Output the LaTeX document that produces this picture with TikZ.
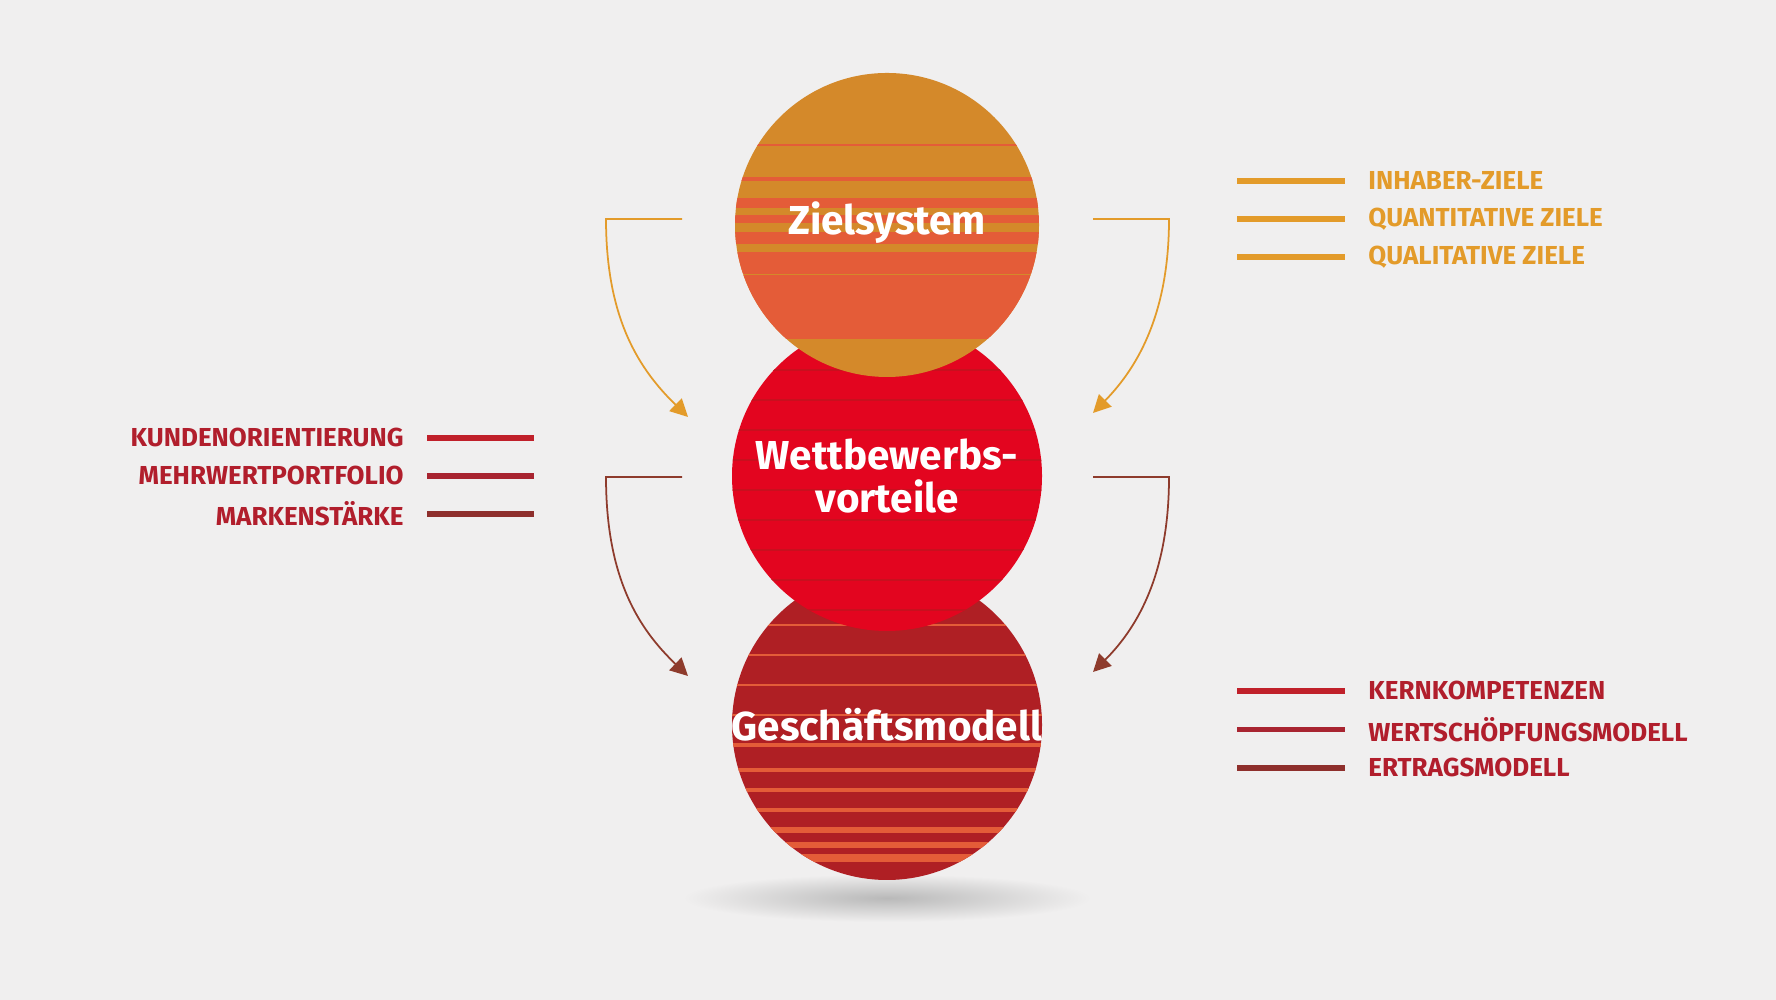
\documentclass[tikz,border=0pt]{standalone}
\usepackage{fontspec}
\setmainfont{Fira Sans}
\usetikzlibrary{arrows.meta,shadows}
\definecolor{bg}{HTML}{F0EFEF}
\definecolor{zorange}{HTML}{D4892A}
\definecolor{zred}{HTML}{E45C38}
\definecolor{wred}{HTML}{E3051F}
\definecolor{wdark}{HTML}{C8101E}
\definecolor{gred}{HTML}{AF1F24}
\definecolor{listorange}{HTML}{E39B2A}
\definecolor{listred}{HTML}{B11E2C}
\definecolor{arrbrown}{HTML}{8E3B2C}
\begin{document}
\begin{tikzpicture}[
arrow/.style={draw,line width=0.5pt,-{Triangle[length=5pt,width=5pt]}},
title/.style={text=white,font=\bfseries\fontsize{11.5}{12}\selectfont,align=center},
item/.style={font=\bfseries\fontsize{7.4}{8}\selectfont},
bar/.style={line width=1.6pt}
]
\fill[bg] (0,0) rectangle (17.76,10);
% shadow
\shade[inner color=gray!55,outer color=bg] (8.87,1.02) ellipse (2.04 and 0.24);

% bottom circle
\begin{scope}
\clip (8.87,2.75) circle (1.55);
\fill[gred] (7,1) rectangle (11,4.4);
\foreach \y/\w in {3.75/0.5,3.45/0.5,3.15/0.6,2.85/0.8,2.55/1,2.3/1,2.1/1.2,1.9/1.4,1.7/1.6,1.55/1.8,1.42/2}
  \draw[zred,line width=\w pt] (7,\y) -- (11,\y);
\end{scope}
\node[title] (geschaeft) at (8.87,2.75) {Geschäftsmodell};

% middle circle
\begin{scope}
\clip (8.87,5.24) circle (1.55);
\fill[wred] (7,3.6) rectangle (11,6.9);
\foreach \y in {6.3,6.0,5.7,5.4,5.1,4.8,4.5,4.2,3.9}
  \draw[wdark,line width=0.4pt] (7,\y) -- (11,\y);
\end{scope}
\node[title] (wettbewerb) at (8.87,5.24) {Wettbewerbs-\\vorteile};

% top circle
\begin{scope}
\clip (8.87,7.75) circle (1.52);
\fill[zorange] (7,6.2) rectangle (11,9.3);
\foreach \y/\w in {8.55/0.6,8.21/1.2,7.97/3,7.81/2.5,7.62/3.5,7.37/6,6.93/18}
  \draw[zred,line width=\w pt] (7,\y) -- (11,\y);
\end{scope}
\node[title] (ziel) at (8.87,7.77) {Zielsystem};

% arrows
\coordinate (zl) at (6.82,7.81);
\coordinate (zr) at (10.93,7.81);
\coordinate (wl) at (6.88,5.83);
\coordinate (wr) at (10.93,5.87);
\coordinate (ml) at (6.82,5.23);
\coordinate (mr) at (10.93,5.23);
\coordinate (gl) at (6.88,3.24);
\coordinate (gr) at (10.93,3.28);
\path[arrow,color=listorange] (zl) -- (6.06,7.81) .. controls (6.06,6.8) and (6.4,6.3) .. (wl);
\path[arrow,color=listorange] (zr) -- (11.69,7.81) .. controls (11.69,6.9) and (11.4,6.35) .. (wr);
\path[arrow,color=arrbrown] (ml) -- (6.06,5.23) .. controls (6.06,4.2) and (6.4,3.7) .. (gl);
\path[arrow,color=arrbrown] (mr) -- (11.69,5.23) .. controls (11.69,4.3) and (11.4,3.75) .. (gr);

% lists
\foreach \t [count=\i] in {INHABER-ZIELE,QUANTITATIVE ZIELE,QUALITATIVE ZIELE}{
  \pgfmathsetmacro\yy{8.19-0.38*(\i-1)}
  \draw[bar,listorange] (12.37,\yy) -- (13.45,\yy);
  \node[item,text=listorange,anchor=west] (zi\i) at (13.56,\yy) {\t};
}
\foreach \t/\c [count=\i] in {KUNDENORIENTIERUNG/C0202A,MEHRWERTPORTFOLIO/A82430,MARKENSTÄRKE/8E2F2C}{
  \pgfmathsetmacro\yy{5.62-0.38*(\i-1)}
  \definecolor{lc}{HTML}{\c}
  \draw[bar,lc] (4.27,\yy) -- (5.34,\yy);
  \node[item,text=listred,anchor=east] (wi\i) at (4.16,\yy) {\t};
}
\foreach \t/\c [count=\i] in {KERNKOMPETENZEN/C0202A,WERTSCHÖPFUNGSMODELL/A82430,ERTRAGSMODELL/8E2F2C}{
  \pgfmathsetmacro\yy{3.09-0.385*(\i-1)}
  \definecolor{lc}{HTML}{\c}
  \draw[bar,lc] (12.37,\yy) -- (13.45,\yy);
  \node[item,text=listred,anchor=west] (gi\i) at (13.56,\yy) {\t};
}
\end{tikzpicture}
\end{document}
